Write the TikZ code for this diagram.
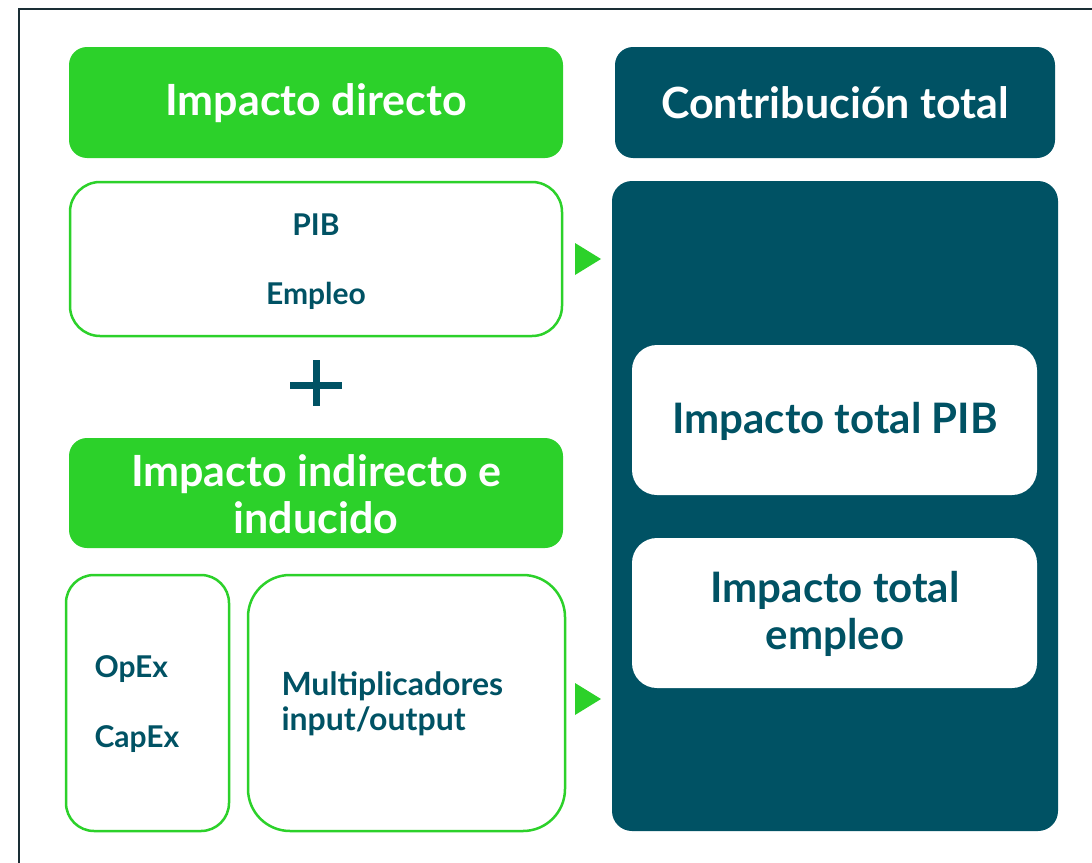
\documentclass[tikz,border=0pt]{standalone}
\usepackage{fontspec}
\setmainfont{Lato}
\definecolor{gr}{HTML}{2CD12A}
\definecolor{dk}{HTML}{005264}
\definecolor{fr}{HTML}{1A2E35}
\begin{document}
\begin{tikzpicture}[x=1pt,y=-1pt,
  hdr/.style={text=white,font=\fontsize{43}{47}\selectfont\bfseries,align=center},
  gbox/.style={draw=gr,line width=2.5pt,fill=white},
  wbox/.style={text=dk,font=\fontsize{42}{47}\selectfont\bfseries,align=center},
  sm/.style={text=dk,font=\fontsize{30}{35}\selectfont\bfseries},
  tri/.style={fill=gr,draw=none}]
\useasboundingbox (0,0) rectangle (1092,862);
\draw[fr,line width=2pt] (19,9) rectangle (1110,880);
% headers
\path[fill=gr,rounded corners=18pt] (69,47) rectangle (563,158);
\node[hdr] (h1) at (316,103) {Impacto directo};
\path[fill=dk,rounded corners=18pt] (615,47) rectangle (1055,158);
\node[hdr] (h2) at (835,103) {Contribución total};
% direct box
\draw[gbox,rounded corners=30pt] (70,182) rectangle (562,336);
\node[sm] (pib) at (316,225) {PIB};
\node[sm] (emp) at (316,296) {Empleo};
% plus
\fill[dk] (290,381.5) rectangle (342,388.5);
\fill[dk] (312.5,360) rectangle (319.5,406);
% header 2
\path[fill=gr,rounded corners=18pt] (69,438) rectangle (563,548);
\node[hdr] (h3) at (316,494) {Impacto indirecto e\\inducido};
% lower boxes
\draw[gbox,rounded corners=28pt] (66,575) rectangle (229,831);
\node[sm,anchor=west] (opex) at (91,669) {OpEx};
\node[sm,anchor=west] (capex) at (91,739) {CapEx};
\draw[gbox,rounded corners=42pt] (248,575) rectangle (565,831);
\node[sm,anchor=west,align=left,font=\fontsize{32}{35}\selectfont\bfseries] (mult) at (278,704) {Multiplicadores\\input/output};
% triangles
\fill[tri] (575,243) -- (601,259) -- (575,275) -- cycle;
\fill[tri] (575,683) -- (601,699) -- (575,715) -- cycle;
% big panel
\path[fill=dk,rounded corners=20pt] (612,181) rectangle (1058,831);
\path[fill=white,rounded corners=25pt] (632,345) rectangle (1037,495);
\node[wbox] (t1) at (835,421) {Impacto total PIB};
\path[fill=white,rounded corners=25pt] (632,538) rectangle (1037,688);
\node[wbox] (t2) at (835,614) {Impacto total\\empleo};
\end{tikzpicture}
\end{document}
